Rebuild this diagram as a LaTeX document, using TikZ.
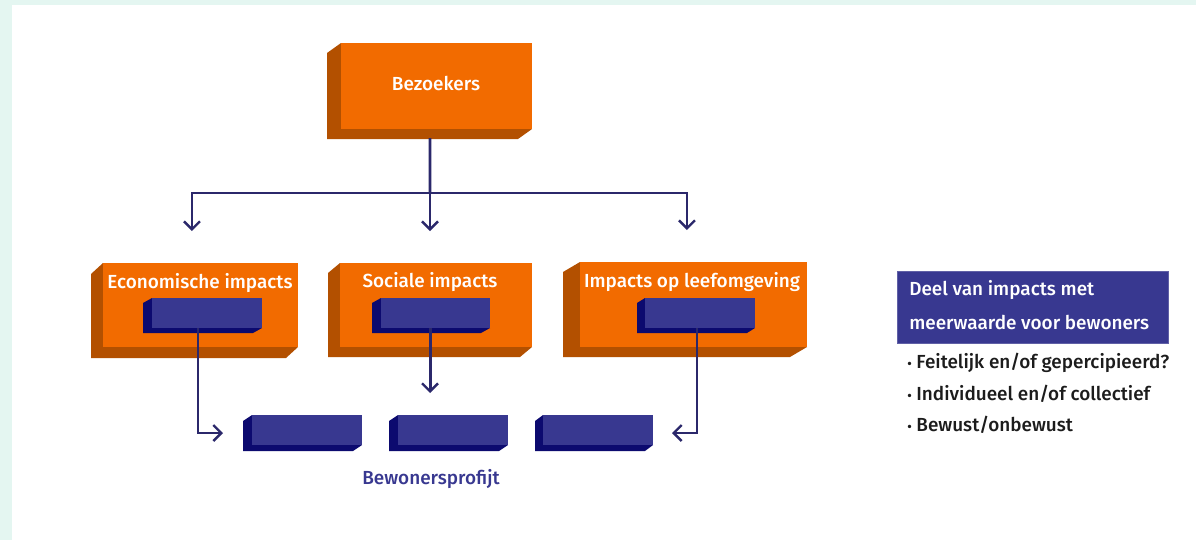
\documentclass[tikz,border=0pt]{standalone}
\usepackage{fontspec}
\setmainfont{Fira Sans}
\newfontfamily\medfont{Fira Sans Medium}
\usetikzlibrary{arrows.meta,fit,calc}
\definecolor{mint}{HTML}{E4F6F1}
\definecolor{orfront}{HTML}{F26B00}
\definecolor{orside}{HTML}{B35000}
\definecolor{nvfront}{HTML}{383890}
\definecolor{nvside}{HTML}{0C0A6F}
\definecolor{linec}{HTML}{2B286B}
\definecolor{txtdark}{HTML}{1C1C1C}
% block: name, x1, y1, x2, y2, dx, dy, front, side
\newcommand\blk[9]{%
  \fill[#9] (#2,#3) -- ++(#6,#7) -- ({#2+#6},{#5+#7}) -- ({#4+#6},{#5+#7}) -- (#4,#5) -- (#2,#5) -- cycle;
  \node[fit={(#2,#3) (#4,#5)}, inner sep=0pt, outer sep=0pt, fill=#8] (#1) {};
}
\newcommand\bul{{\fontsize{10}{10}\selectfont\textbullet}\hspace{3.5pt}}
\tikzset{
  conn/.style={draw=linec, line width=2.2pt},
  arr/.style={conn, -{Straight Barb[length=6pt,width=12pt,line width=1.8pt]}},
  txt/.style={font=\medfont\fontsize{14.2}{17}\selectfont, inner sep=0pt},
  boxlabel/.style={txt, text=white},
}
\begin{document}
\begin{tikzpicture}[x=0.75pt,y=-0.75pt]
\useasboundingbox (0,0) rectangle (1196,540);
\fill[mint] (0,0) rectangle (1196,540);
\fill[white] (12,5) rectangle (1196,540);

% top block
\blk{bez}{341}{43}{532}{129}{-14}{10}{orfront}{orside}
\node[boxlabel] (bezt) at (436,83) {Bezoekers};

% middle blocks
\blk{eco}{103}{263}{298}{347}{-12}{11}{orfront}{orside}
\node[boxlabel] (ecot) at (200,283) {Economische impacts};
\blk{ecoI}{152}{298}{262}{328}{-9}{5}{nvfront}{nvside}

\blk{soc}{340}{263}{532}{347}{-12}{10}{orfront}{orside}
\node[boxlabel] (soct) at (430,282) {Sociale impacts};
\blk{socI}{381}{298}{490}{328}{-9}{5}{nvfront}{nvside}

\blk{leef}{580}{262}{807}{347}{-17}{10}{orfront}{orside}
\node[boxlabel] (leeft) at (692,282) {Impacts op leefomgeving};
\blk{leefI}{645}{298}{755}{328}{-8}{5}{nvfront}{nvside}

% bottom blocks
\blk{b1}{252}{415}{362}{445}{-9}{6}{nvfront}{nvside}
\blk{b2}{398}{415}{508}{445}{-9}{6}{nvfront}{nvside}
\blk{b3}{543}{415}{653}{445}{-8}{6}{nvfront}{nvside}
\node[txt, text=nvfront] (prof) at (431,479) {Bewonersprofijt};

% connectors
\coordinate (hub) at (430,193);
\draw[conn, shorten <=6.75pt] ([xshift=-4.9pt]bez.south) -- (hub);
\draw[conn] (hub) -- (hub -| 192,0);
\draw[conn] (hub) -- (hub -| 687,0);
\draw[arr, shorten >=24pt] (hub) -| ([xshift=-6.4pt]eco.north);
\draw[arr, shorten >=24pt] (hub) -- (hub |- soc.north);
\draw[arr, shorten >=24pt] (hub) -| ([xshift=-4.9pt]leef.north);

\draw[arr, shorten >=21.75pt] ([xshift=-6.75pt]ecoI.south) |- ([yshift=-2.25pt]b1.west);
\draw[arr, shorten >=16.5pt] ([xshift=-4.1pt]socI.south) -- ([xshift=-4.1pt]socI.south |- b2.north);
\draw[arr, shorten >=14.25pt] ([xshift=-2.25pt]leefI.south) |- ([yshift=-2.25pt]b3.east);

% legend
\node[fit={(897,271) (1168,343)}, inner sep=0pt, fill=nvfront, draw=nvfront!80!white, line width=0.4pt] (leg) {};
\node[txt, anchor=west, text=white] (leg1) at (909,290) {Deel van impacts met};
\node[txt, anchor=west, text=white] (leg2) at (909,322) {meerwaarde voor bewoners};
\node[txt, anchor=west, text=txtdark] (bul1) at (907,363) {\bul Feitelijk en/of gepercipieerd?};
\node[txt, anchor=west, text=txtdark] (bul2) at (907,394) {\bul Individueel en/of collectief};
\node[txt, anchor=west, text=txtdark] (bul3) at (907,425) {\bul Bewust/onbewust};
\end{tikzpicture}
\end{document}
